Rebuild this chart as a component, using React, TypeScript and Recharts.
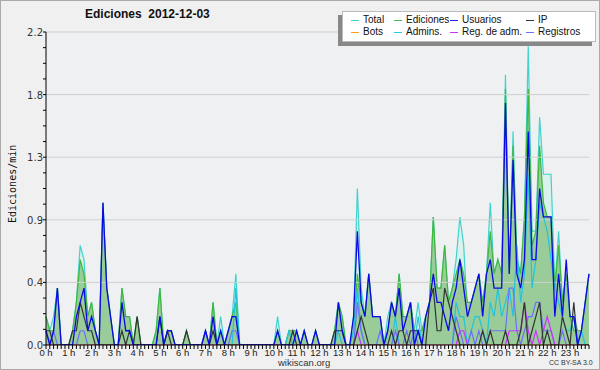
import React from 'react';
import {
  ComposedChart,
  Area,
  Line,
  XAxis,
  YAxis,
  CartesianGrid,
  ReferenceLine,
} from 'recharts';

// 10-minute buckets, 6 per hour, values in edits/min
const TOTAL = [
  0.2, 0.1, 0.2, 0.4, 0, 0,
  0, 0.1, 0.3, 0.7, 0.6, 0.2,
  0.3, 0.1, 0, 1.0, 0.4, 0.2,
  0, 0, 0.4, 0.2, 0.2, 0,
  0.2, 0, 0, 0, 0, 0.1,
  0.4, 0, 0.1, 0.1, 0, 0,
  0, 0.1, 0, 0, 0, 0,
  0.1, 0, 0.3, 0, 0.2, 0,
  0.1, 0.2, 0.5, 0, 0, 0,
  0, 0, 0, 0, 0, 0,
  0, 0.2, 0, 0, 0.1, 0.1,
  0.1, 0, 0.1, 0, 0, 0.1,
  0, 0, 0, 0, 0.1, 0.3,
  0.2, 0, 0, 0.2, 1.1, 0.4,
  0.2, 0.5, 0.2, 0.2, 0.2, 0,
  0.2, 0.3, 0.2, 0.5, 0.2, 0.2,
  0.3, 0.1, 0.3, 0.1, 0.2, 0.3,
  0.9, 0.4, 0.4, 0.7, 0.3, 0.4,
  0.6, 0.9, 0.7, 0.2, 0.3, 0.4,
  0.5, 0.3, 0.5, 1.0, 0.5, 0.6,
  0.5, 1.9, 0.5, 1.5, 0.6, 0.5,
  0.9, 2.1, 0.8, 0.8, 1.6, 1.2,
  1.2, 1.2, 0.4, 0.8, 0.3, 0.5,
  0.2, 0.2, 0.1, 0.1, 0.3, 0.5,
];

const EDICIONES = [
  0.2, 0.1, 0.1, 0.4, 0, 0,
  0, 0.1, 0.3, 0.6, 0.5, 0.2,
  0.3, 0.1, 0, 1.0, 0.4, 0.2,
  0, 0, 0.4, 0.2, 0.2, 0,
  0.2, 0, 0, 0, 0, 0.1,
  0.4, 0, 0.1, 0.1, 0, 0,
  0, 0.1, 0, 0, 0, 0,
  0.1, 0, 0.3, 0, 0.1, 0,
  0.1, 0.2, 0.3, 0, 0, 0,
  0, 0, 0, 0, 0, 0,
  0, 0.1, 0, 0, 0.1, 0.1,
  0.1, 0, 0.1, 0, 0, 0.1,
  0, 0, 0, 0, 0.1, 0.3,
  0.2, 0, 0, 0.1, 0.5, 0.3,
  0.2, 0.5, 0.2, 0.2, 0.2, 0,
  0.1, 0.3, 0.2, 0.5, 0.2, 0.2,
  0.3, 0.1, 0.1, 0.1, 0.2, 0.3,
  0.9, 0.4, 0.4, 0.7, 0.3, 0.4,
  0.5, 0.6, 0.5, 0.3, 0.3, 0.4,
  0.5, 0.3, 0.5, 0.8, 0.5, 0.6,
  0.5, 1.8, 0.5, 1.4, 0.6, 0.5,
  0.9, 1.8, 0.7, 0.8, 1.4, 1.0,
  0.9, 0.9, 0.4, 0.7, 0.3, 0.5,
  0.2, 0.1, 0.1, 0.1, 0.3, 0.5,
];

const USUARIOS = [
  0.1, 0, 0.1, 0.4, 0, 0,
  0, 0, 0.2, 0.3, 0.4, 0.1,
  0.2, 0.1, 0, 1.0, 0.4, 0.2,
  0, 0, 0.3, 0.1, 0.1, 0,
  0, 0, 0, 0, 0, 0,
  0.2, 0, 0.1, 0.1, 0, 0,
  0, 0, 0, 0, 0, 0,
  0.1, 0, 0.2, 0, 0.1, 0,
  0.1, 0.2, 0.2, 0, 0, 0,
  0, 0, 0, 0, 0, 0,
  0, 0.1, 0, 0, 0, 0,
  0.1, 0, 0.1, 0, 0, 0.1,
  0, 0, 0, 0, 0, 0.3,
  0.1, 0, 0, 0.2, 0.8, 0.3,
  0.2, 0.5, 0.2, 0.2, 0.2, 0,
  0.1, 0.3, 0.2, 0.4, 0.1, 0.2,
  0.3, 0, 0.1, 0, 0.2, 0.3,
  0.5, 0.3, 0.3, 0.2, 0.1, 0.3,
  0.4, 0.6, 0.4, 0.2, 0.3, 0.4,
  0.5, 0.2, 0.5, 0.6, 0.4, 0.4,
  0.4, 1.7, 0.5, 1.3, 0.5, 0.4,
  0.6, 1.5, 0.6, 0.6, 1.1, 0.9,
  0.9, 0.9, 0.2, 0.5, 0.2, 0.6,
  0.2, 0.2, 0, 0.1, 0.3, 0.5,
];

const IP = [
  0.1, 0.1, 0, 0, 0, 0,
  0, 0.1, 0.1, 0.3, 0.2, 0.1,
  0.1, 0, 0, 0, 0, 0,
  0, 0, 0.1, 0, 0.1, 0,
  0.2, 0, 0, 0, 0, 0,
  0.2, 0, 0.1, 0, 0, 0,
  0, 0.1, 0, 0, 0, 0,
  0, 0, 0.1, 0, 0, 0,
  0, 0, 0, 0, 0, 0,
  0, 0, 0, 0, 0, 0,
  0, 0, 0, 0, 0, 0.1,
  0, 0, 0, 0, 0, 0,
  0, 0, 0, 0, 0.1, 0.1,
  0.1, 0, 0, 0, 0.1, 0.2,
  0.1, 0, 0, 0, 0, 0,
  0, 0.1, 0, 0.1, 0.1, 0,
  0.1, 0.1, 0.1, 0, 0, 0.3,
  0.4, 0.1, 0.1, 0.4, 0.3, 0.2,
  0.1, 0, 0, 0, 0, 0,
  0, 0.1, 0, 0.1, 0, 0,
  0, 0.1, 0, 0, 0, 0.1,
  0.3, 0, 0.1, 0.2, 0.3, 0,
  0.1, 0, 0, 0, 0.2, 0.1,
  0, 0.3, 0, 0, 0, 0,
];

const BOTS = new Array(144).fill(0);

const ADMINS = [
  0, 0, 0, 0, 0, 0,
  0, 0, 0, 0, 0, 0,
  0, 0, 0, 0, 0, 0,
  0, 0, 0, 0, 0, 0,
  0, 0, 0, 0, 0, 0,
  0, 0, 0, 0, 0, 0,
  0, 0, 0, 0, 0, 0,
  0, 0, 0, 0, 0, 0,
  0, 0, 0.4, 0, 0, 0,
  0, 0, 0, 0, 0, 0,
  0, 0, 0, 0, 0.1, 0,
  0, 0, 0, 0, 0, 0,
  0, 0, 0, 0, 0, 0.1,
  0, 0, 0, 0.1, 0.4, 0.1,
  0, 0, 0, 0, 0, 0,
  0, 0, 0.2, 0, 0, 0,
  0, 0, 0.2, 0, 0, 0,
  0, 0, 0, 0, 0, 0,
  0.3, 0.2, 0.2, 0, 0.1, 0.2,
  0.2, 0.1, 0, 0.3, 0.2, 0.4,
  0.2, 0.3, 0.4, 0.2, 0.7, 0.3,
  0.5, 1.2, 0.4, 0.6, 1.0, 0.9,
  0.8, 0.6, 0.4, 0.3, 0.2, 0.1,
  0.1, 0.2, 0, 0.1, 0, 0,
];

const REG_ADM = [
  ...new Array(78).fill(0),
  0, 0, 0, 0, 0.1, 0,
  0, 0, 0, 0, 0, 0,
  0, 0, 0, 0, 0, 0,
  0, 0, 0, 0, 0, 0,
  0, 0, 0, 0, 0, 0,
  0, 0.1, 0.1, 0, 0, 0,
  0, 0, 0, 0, 0, 0,
  0, 0, 0.1, 0.1, 0.1, 0.1,
  0.3, 0.1, 0, 0.1, 0, 0.1,
  0.2, 0.1, 0, 0, 0, 0,
  0, 0, 0, 0, 0, 0,
];

const REGISTROS = [
  0.1, 0, 0.1, 0, 0, 0,
  0, 0, 0, 0.1, 0.1, 0,
  0, 0, 0, 0, 0, 0,
  0, 0, 0, 0, 0, 0,
  0, 0, 0, 0, 0, 0,
  0, 0, 0, 0, 0, 0,
  0, 0, 0, 0, 0, 0,
  0.1, 0, 0, 0, 0, 0,
  0, 0.1, 0.1, 0, 0, 0,
  0, 0, 0, 0, 0, 0,
  0, 0, 0, 0, 0, 0,
  0, 0, 0, 0, 0, 0,
  0, 0, 0, 0, 0, 0,
  0, 0, 0, 0, 0.3, 0.1,
  0, 0, 0, 0, 0.1, 0,
  0, 0, 0.1, 0, 0, 0.1,
  0, 0.1, 0, 0, 0, 0,
  0, 0, 0, 0, 0, 0,
  0.2, 0.1, 0, 0, 0.1, 0,
  0.1, 0, 0, 0.1, 0.1, 0.1,
  0.1, 0.1, 0.4, 0.4, 0.1, 0,
  0.1, 0.2, 0.2, 0.3, 0.3, 0.1,
  0.1, 0.1, 0, 0, 0.1, 0,
  0, 0, 0, 0, 0, 0,
];

const HOURS = Array.from({ length: 24 }, (_, h) => `${h} h`);
const X_TICKS = Array.from({ length: 144 }, (_, k) => k);
const Y_TICKS = Array.from({ length: 21 }, (_, k) => +(k * 0.11).toFixed(2));
const Y_GRID = [0.44, 0.88, 1.32, 1.76, 2.2];

const LEGEND = [
  { name: 'Total', color: '#3fd3cc' },
  { name: 'Ediciones', color: '#44bb44' },
  { name: 'Usuarios', color: '#2222ff' },
  { name: 'IP', color: '#333333' },
  { name: 'Bots', color: '#ff9a1a' },
  { name: 'Admins.', color: '#22ccdd' },
  { name: 'Reg. de adm.', color: '#cc33ff' },
  { name: 'Registros', color: '#6f6fff' },
];

const data = TOTAL.map((v, i) => ({
  i,
  total: v,
  edits: EDICIONES[i],
  users: USUARIOS[i],
  ip: IP[i],
  bots: BOTS[i],
  admins: ADMINS[i],
  regadm: REG_ADM[i],
  reg: REGISTROS[i],
}));

const XTick = (props: any) => {
  const { x, y, payload } = props;
  const v = payload.value;
  return (
    <g>
      <line x1={x} x2={x} y1={y} y2={y + 4} stroke="#000" />
      {v % 6 === 0 && (
        <text x={x} y={y + 11} textAnchor="middle" fontSize={9.5} fontFamily="Liberation Sans" fill="#222">
          {HOURS[v / 6]}
        </text>
      )}
    </g>
  );
};

const YTick = (props: any) => {
  const { x, y, index } = props;
  return (
    <g>
      <line x1={x - 3} x2={x} y1={y} y2={y} stroke="#000" />
      {index % 4 === 0 && (
        <text x={x - 3} y={y + 4} textAnchor="end" fontSize={10} fontFamily="DejaVu Sans" fill="#333">
          {(index * 0.11).toFixed(1)}
        </text>
      )}
    </g>
  );
};

export default function App() {
  return (
    <div
      style={{
        position: 'fixed',
        left: 0,
        top: 0,
        width: 598,
        height: 368,
        background: '#f0f0f0',
        border: '1px solid #a9a9a9',
        fontFamily: '"Liberation Sans", Arial, sans-serif',
      }}
    >
      <div style={{ position: 'absolute', left: 84, top: 6, fontSize: 12, fontWeight: 'bold', color: '#111', whiteSpace: 'pre' }}>
        {'Ediciones  2012-12-03'}
      </div>
      <div
        style={{
          position: 'absolute',
          left: 3,
          top: 184,
          transform: 'translate(0,-50%) rotate(-90deg)',
          transformOrigin: 'center',
          fontFamily: '"DejaVu Sans Mono", monospace',
          fontSize: 10,
          color: '#111',
          whiteSpace: 'nowrap',
          width: 16,
          textAlign: 'center',
        }}
      >
        <span style={{ display: 'inline-block', marginLeft: -30, width: 76 }}>Ediciones/min</span>
      </div>
      <ComposedChart
        width={598}
        height={368}
        data={data}
        margin={{ top: 31, right: 10, bottom: 0, left: -1 }}
        style={{ position: 'absolute', left: 0, top: 0 }}
      >
        <CartesianGrid horizontal={false} vertical={false} fill="#eef0f2" />
        {Y_GRID.map((v) => (
          <ReferenceLine key={v} y={v} stroke="#cfcfcf" strokeWidth={1} />
        ))}
        <XAxis
          type="number"
          dataKey="i"
          domain={[0, 143]}
          ticks={X_TICKS}
          interval={0}
          tick={<XTick />}
          tickLine={false}
          tickSize={0}
          tickMargin={0}
          axisLine={{ stroke: '#000' }}
          height={24}
        />
        <YAxis
          type="number"
          domain={[0, 2.2]}
          ticks={Y_TICKS}
          interval={0}
          tick={<YTick />}
          tickLine={false}
          tickSize={0}
          tickMargin={0}
          axisLine={{ stroke: '#000' }}
          width={46}
          allowDataOverflow
        />
        <Area type="linear" dataKey="total" stroke="#3fd3cc" strokeWidth={1.2} fill="#d9f2ee" fillOpacity={1} isAnimationActive={false} dot={false} />
        <Area type="linear" dataKey="edits" stroke="#3fb83f" strokeWidth={1.2} fill="#99cc99" fillOpacity={1} isAnimationActive={false} dot={false} />
        <Line type="linear" dataKey="admins" stroke="#22c4dd" strokeWidth={1.2} dot={false} isAnimationActive={false} />
        <Line type="linear" dataKey="reg" stroke="#6f6fff" strokeWidth={1.2} dot={false} isAnimationActive={false} />
        <Line type="linear" dataKey="regadm" stroke="#cc33ff" strokeWidth={1.2} dot={false} isAnimationActive={false} />
        <Line type="linear" dataKey="bots" stroke="#ff9a1a" strokeWidth={1.2} dot={false} isAnimationActive={false} />
        <Line type="linear" dataKey="ip" stroke="#333333" strokeWidth={1.2} dot={false} isAnimationActive={false} />
        <Line type="linear" dataKey="users" stroke="#0a0ae6" strokeWidth={1.3} dot={false} isAnimationActive={false} />
      </ComposedChart>
      <div
        style={{
          position: 'absolute',
          left: 341,
          top: 10,
          width: 244,
          height: 27,
          background: '#fff',
          border: '1px solid #bbb',
          boxShadow: '-4px 4px 0 #888',
          display: 'grid',
          gridTemplateColumns: '43px 56px 76px 69px',
          gridTemplateRows: '12px 12px',
          padding: '2px 0 0 8px',
          fontSize: 10,
          color: '#111',
        }}
      >
        {LEGEND.map((l) => (
          <div key={l.name} style={{ display: 'flex', alignItems: 'center', whiteSpace: 'nowrap', lineHeight: '12px' }}>
            <span style={{ display: 'inline-block', width: 8, height: 1, background: l.color, marginRight: 4 }} />
            {l.name}
          </div>
        ))}
      </div>
      <div style={{ position: 'absolute', left: 277, top: 356, fontSize: 9.5, lineHeight: '11px', color: '#333' }}>wikiscan.org</div>
      <div style={{ position: 'absolute', left: 548, top: 358, fontSize: 7, lineHeight: '8px', color: '#333' }}>CC BY-SA 3.0</div>
    </div>
  );
}
